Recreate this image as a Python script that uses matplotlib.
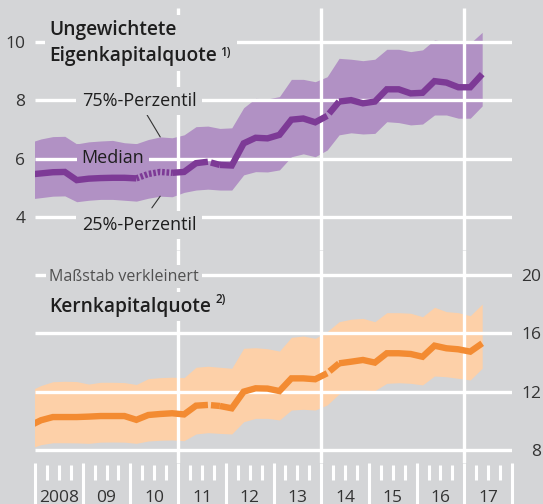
import numpy as np
import pandas as pd
import matplotlib.pyplot as plt

plt.rcParams['font.family'] = ['Open Sans', 'DejaVu Sans']
plt.rcParams['lines.scale_dashes'] = False

# Quartale (Mitte des Quartals), 2007Q4 liegt links ausserhalb der Achse
quartale = pd.period_range('2007Q4', '2017Q2', freq='Q')
x = np.asarray(quartale.year + (quartale.quarter - 0.5) / 4, dtype=float)

# Ungewichtete Eigenkapitalquote
ek_p75 = [6.55, 6.68, 6.76, 6.77, 6.51, 6.58, 6.61, 6.63, 6.55, 6.52,
          6.66, 6.75, 6.72, 6.82, 7.10, 7.12, 7.04, 7.06, 7.75, 8.07,
          8.05, 8.13, 8.72, 8.72, 8.64, 8.81, 9.44, 9.41, 9.36, 9.41,
          9.75, 9.75, 9.67, 9.73, 10.07, 10.01, 9.96, 9.96, 10.33]
ek_median = [5.46, 5.50, 5.54, 5.55, 5.27, 5.32, 5.34, 5.35, 5.35, 5.33,
             5.48, 5.55, 5.52, 5.55, 5.85, 5.90, 5.79, 5.77, 6.53, 6.72,
             6.70, 6.82, 7.34, 7.38, 7.25, 7.47, 7.96, 8.01, 7.90, 7.96,
             8.38, 8.38, 8.24, 8.26, 8.66, 8.61, 8.45, 8.45, 8.90]
ek_p25 = [4.62, 4.67, 4.72, 4.73, 4.53, 4.58, 4.61, 4.61, 4.58, 4.55,
          4.65, 4.72, 4.70, 4.85, 4.93, 4.96, 4.93, 4.93, 5.45, 5.56,
          5.55, 5.62, 6.07, 6.17, 6.07, 6.30, 6.82, 6.89, 6.85, 6.87,
          7.27, 7.24, 7.16, 7.19, 7.50, 7.50, 7.39, 7.39, 7.81]

# Kernkapitalquote
kk_p75 = [12.05, 12.43, 12.69, 12.72, 12.70, 12.53, 12.65, 12.65, 12.63, 12.50,
          12.90, 12.97, 13.00, 12.97, 13.68, 13.75, 13.68, 13.61, 14.98, 15.02,
          14.95, 14.79, 15.73, 15.82, 15.66, 16.12, 16.80, 16.97, 17.03, 16.80,
          17.42, 17.42, 17.38, 17.14, 17.79, 17.49, 17.42, 17.21, 18.01]
kk_median = [9.65, 10.05, 10.27, 10.27, 10.27, 10.30, 10.34, 10.34, 10.34, 10.08,
             10.41, 10.48, 10.53, 10.45, 11.05, 11.10, 11.03, 10.87, 12.01, 12.24,
             12.22, 12.05, 12.92, 12.92, 12.86, 13.27, 13.95, 14.06, 14.18, 14.00,
             14.64, 14.64, 14.59, 14.40, 15.16, 14.98, 14.91, 14.75, 15.32]
kk_p25 = [8.10, 8.38, 8.51, 8.51, 8.50, 8.47, 8.55, 8.56, 8.55, 8.47,
          8.63, 8.68, 8.70, 8.65, 9.11, 9.20, 9.15, 9.11, 9.95, 10.18,
          10.18, 10.07, 10.75, 10.80, 10.75, 11.10, 11.85, 12.12, 12.12, 12.08,
          12.58, 12.62, 12.58, 12.47, 13.08, 13.03, 12.92, 12.81, 13.61]

jahre = ['2008', '09', '10', '11', '12', '13', '14', '15', '16', '17']
ek_ticks = [4, 6, 8, 10]
kk_ticks = [8, 12, 16, 20]
vertikale = [2011, 2014, 2017]

brueche = [15, 25]       # Strukturbrueche (kleine Luecke nach diesem Quartal)
punktiert = (9, 12)      # geschaetzter Abschnitt Eigenkapitalquote

grau = '#d4d5d7'
lila_band = '#b191c4'
lila = '#7d3a96'
orange_band = '#fdd0a8'
orange = '#f38b32'
text_farbe = '#1e1e1e'

W, H = 543, 504
fig = plt.figure(figsize=(W / 100, H / 100), dpi=100, facecolor=grau)


def achse(links, oben, rechts, unten):
    return fig.add_axes([links / W, 1 - unten / H, (rechts - links) / W, (unten - oben) / H])


ax1 = achse(35, 8, 512, 250)
ax2 = achse(35, 250, 512, 463)
ax3 = achse(35, 463, 512, 504)

for ax in (ax1, ax2, ax3):
    ax.set_facecolor('none')
    for s in ax.spines.values():
        s.set_visible(False)
    ax.set_xlim(2008, 2018)
    ax.set_xticks([])

ax1.set_ylim(2.877, 11.164)
ax2.set_ylim(7.123, 21.712)
ax3.set_ylim(0, 1)
ax3.set_yticks([])

gitter = dict(color='white', lw=2.4, solid_capstyle='butt', zorder=2)
for v in ek_ticks:
    ax1.axhline(v, **gitter)
for v in kk_ticks:
    ax2.axhline(v, **gitter)
for j in vertikale:
    ax1.axvline(j, **gitter)
    ax2.axvline(j, **gitter)

ax1.set_yticks(ek_ticks)
ax1.tick_params(axis='y', length=0, pad=7, labelsize=12.5, labelcolor='#333333')
ax2.yaxis.tick_right()
ax2.set_yticks(kk_ticks)
ax2.tick_params(axis='y', length=0, pad=21, labelsize=12.5, labelcolor='#333333')
for lab in ax2.get_yticklabels():
    lab.set_ha('right')

# Baender
ax1.fill_between(x, ek_p25, ek_p75, color=lila_band, lw=0, zorder=1)
ax2.fill_between(x, kk_p25, kk_p75, color=orange_band, lw=0, zorder=1)


def median_linie(ax, y, farbe, mit_punkten=False):
    kw = dict(color=farbe, lw=4.6, solid_capstyle='butt', dash_capstyle='butt',
              solid_joinstyle='miter', zorder=3)
    y = np.asarray(y)
    teile = [(0, brueche[0])]
    for a, b in zip(brueche, brueche[1:] + [len(x) - 1]):
        # Verbindung mit kleiner Luecke am Bruch
        ax.plot(x[a:a + 2], y[a:a + 2], ls=(20, (20, 2.2)), **kw)
        teile.append((a + 1, b))
    for a, b in teile:
        if mit_punkten and a <= punktiert[0] and b >= punktiert[1]:
            p0, p1 = punktiert
            ax.plot(x[a:p0 + 1], y[a:p0 + 1], **kw)
            ax.plot(x[p0:p1 + 1], y[p0:p1 + 1], ls=(0, (1.9, 1.3)), **kw)
            ax.plot(x[p1:b + 1], y[p1:b + 1], **kw)
        else:
            ax.plot(x[a:b + 1], y[a:b + 1], **kw)


median_linie(ax1, ek_median, lila, mit_punkten=True)
median_linie(ax2, kk_median, orange)

# Beschriftungen oben (Grundlinie der zweiten Zeile)
box = dict(boxstyle='square,pad=0.25', fc=grau, ec='none')
titel1 = ax1.text(2008.30, 9.34, 'Ungewichtete\nEigenkapitalquote', fontsize=13.8,
                  fontweight='semibold', color=text_farbe, va='baseline', ha='left',
                  linespacing=1.45, bbox=box, zorder=5)
ax1.annotate('1)', xy=(1, 0), xycoords=titel1, xytext=(2, 5),
             textcoords='offset points', fontsize=8.5, fontweight='semibold',
             color=text_farbe, va='bottom', ha='left',
             bbox=dict(boxstyle='square,pad=0.6', fc=grau, ec='none'), zorder=4.9)

lbox = dict(boxstyle='square,pad=0.3', fc=grau, ec='none')
ax1.text(2008.98, 7.81, '75%-Perzentil', fontsize=13, color=text_farbe,
         va='baseline', ha='left', bbox=lbox, zorder=5)
ax1.text(2008.98, 5.86, 'Median', fontsize=13, color=text_farbe,
         va='baseline', ha='left', zorder=2.5,
         bbox=dict(boxstyle='square,pad=0.25', fc=lila_band, ec='none'))
ax1.text(2008.98, 3.56, '25%-Perzentil', fontsize=13, color=text_farbe,
         va='baseline', ha='left', bbox=lbox, zorder=5)

pfeil = dict(arrowstyle='-', color='#333333', lw=0.8, shrinkA=0, shrinkB=0)
ax1.annotate('', xy=(x[11], ek_p75[11]), xytext=(2010.35, 7.50), arrowprops=pfeil, zorder=4)
ax1.annotate('', xy=(x[11], ek_p25[11]), xytext=(2010.45, 4.32), arrowprops=pfeil, zorder=4)

# Beschriftungen unten
ax2.text(2008.30, 19.61, 'Maßstab verkleinert', fontsize=11.5, color='#505050',
         va='baseline', ha='left', zorder=5,
         bbox=dict(boxstyle='square,pad=0.2', fc=grau, ec='none'))
titel2 = ax2.text(2008.30, 17.49, 'Kernkapitalquote', fontsize=13.8,
                  fontweight='semibold', color=text_farbe, va='baseline', ha='left',
                  bbox=box, zorder=5)
ax2.annotate('2)', xy=(1, 0), xycoords=titel2, xytext=(3, 8),
             textcoords='offset points', fontsize=8.5, fontweight='semibold',
             color=text_farbe, va='bottom', ha='left', zorder=5)

# Zeitachse mit Quartalsstrichen
grenzen = np.arange(2008, 2018.01, 0.25)
lang = grenzen[np.isclose(grenzen % 1, 0)]
kurz = grenzen[~np.isclose(grenzen % 1, 0)]
ax3.vlines(lang, 0, 1, color='white', lw=2.2, clip_on=False)
ax3.vlines(kurz, 0.585, 0.95, color='white', lw=2.2, clip_on=False)
for j, lab in zip(range(2008, 2018), jahre):
    ax3.text(j + 0.5, 0.06, lab, ha='center', va='baseline', fontsize=12.5, color='#333333')

fig.savefig('out.png', dpi=100, facecolor=grau)
